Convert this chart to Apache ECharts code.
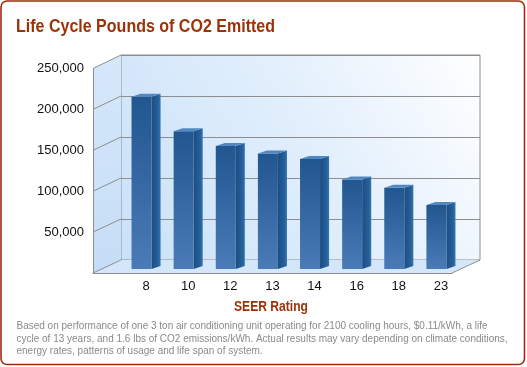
<!DOCTYPE html>
<html><head><meta charset="utf-8">
<script src="https://cdn.jsdelivr.net/npm/echarts@6/dist/echarts.min.js"></script>
<style>html,body{margin:0;padding:0;background:#fff}#c{width:527px;height:367px}</style>
</head><body><div id="c"></div>
<script>
// ---- data ----
const categories = ['8', '10', '12', '13', '14', '16', '18', '23'];
const emissions = [210000, 168000, 150000, 141000, 134000, 109000, 99000, 78000];
const yTicks = [0, 50000, 100000, 150000, 200000, 250000];
const titleText = 'Life Cycle Pounds of CO2 Emitted';
const xAxisTitle = 'SEER Rating';
const footnoteLines = [
  'Based on performance of one 3 ton air conditioning unit operating for 2100 cooling hours, $0.11/kWh, a life',
  'cycle of 13 years, and 1.6 lbs of CO2 emissions/kWh. Actual results may vary depending on climate conditions,',
  'energy rates, patterns of usage and life span of system.'
];

// ---- styles ----
const RED = '#9c3208';
const EDGE = '#8e8e8e';
const SANS = '"Liberation Sans", Arial, Helvetica, sans-serif';
const yMax = yTicks[yTicks.length - 1];
const yStep = yTicks[1] - yTicks[0];

const mctx = document.createElement('canvas').getContext('2d');
function fitScale(text, font, target) {
  mctx.font = font;
  return target / mctx.measureText(text).width;
}

const chart = echarts.init(document.getElementById('c'), null, { renderer: 'canvas' });

const frontFill = new echarts.graphic.LinearGradient(0, 0, 0, 1, [
  { offset: 0, color: '#22568f' }, { offset: 1, color: '#4a7bb7' }]);
const sideFill = new echarts.graphic.LinearGradient(0, 0, 1, 0, [
  { offset: 0, color: '#1c4d83' }, { offset: 0.75, color: '#27619a' }, { offset: 1, color: '#3a78b3' }]);

const yAxisBase = { type: 'value', min: 0, max: yMax, interval: yStep };

chart.setOption({
  animation: false,
  backgroundColor: '#fff',
  grid: [
    // back wall
    { left: 121, top: 55, width: 359, height: 205, show: true, borderColor: EDGE, borderWidth: 1,
      backgroundColor: new echarts.graphic.LinearGradient(0, 1, 1, 0, [
        { offset: 0, color: '#c9e1f9' }, { offset: 0.55, color: '#e2effc' }, { offset: 1, color: '#ffffff' }]) },
    // front plane (axis labels)
    { left: 93, top: 68.5, width: 359, height: 204.5 },
    // bar plane
    { left: 125, top: 64, width: 337, height: 205 }
  ],
  xAxis: [
    { gridIndex: 0, type: 'category', data: categories, show: false },
    { gridIndex: 1, type: 'category', data: categories,
      axisLine: { show: true, lineStyle: { color: EDGE, width: 1 } }, axisTick: { show: false }, axisLabel: { show: false } },
    { gridIndex: 2, type: 'category', data: categories,
      axisLine: { show: false }, axisTick: { show: false },
      axisLabel: { margin: 11, fontFamily: SANS, fontSize: 13, color: '#111' } }
  ],
  yAxis: [
    Object.assign({ gridIndex: 0, axisLine: { show: false }, axisTick: { show: false }, axisLabel: { show: false },
      splitLine: { show: true, lineStyle: { color: EDGE, width: 1 } } }, yAxisBase),
    Object.assign({ gridIndex: 1, axisLine: { show: true, lineStyle: { color: EDGE, width: 1 } }, axisTick: { show: false },
      splitLine: { show: false },
      axisLabel: { margin: 9, fontFamily: SANS, fontSize: 13, color: '#111',
        formatter: v => v === 0 ? '' : v.toLocaleString('en-US') } }, yAxisBase),
    Object.assign({ gridIndex: 2, show: false, splitLine: { show: false } }, yAxisBase)
  ],
  series: [{
    type: 'custom', xAxisIndex: 2, yAxisIndex: 2, z: 5,
    data: emissions.map((v, i) => [i, v]),
    renderItem: function (params, api) {
      const i = api.value(0), v = api.value(1);
      const top = api.coord([i, v]);
      const base = api.coord([i, 0]);
      const bw = api.size([1, 0])[0];
      const cx = top[0];
      const L = cx - bw * 0.345, R = cx + bw * 0.13;
      const D = bw * 0.215, DY = -3;
      return { type: 'group', children: [
        { type: 'polygon', shape: { points: [[R, top[1]], [R + D, top[1] + DY], [R + D, base[1] + DY], [R, base[1]]] },
          style: { fill: sideFill } },
        { type: 'rect', shape: { x: L, y: top[1], width: R - L, height: base[1] - top[1] },
          style: { fill: frontFill } },
        { type: 'polygon', shape: { points: [[L, top[1]], [L + D, top[1] + DY], [R + D, top[1] + DY], [R, top[1]]] },
          style: { fill: '#5288c2' } }
      ] };
    }
  }]
});

// walls / floor / depth lines computed from the axes
const fBL = [93, chart.convertToPixel({ yAxisIndex: 1 }, 0)];
const fTL = [93, chart.convertToPixel({ yAxisIndex: 1 }, yMax)];
const fBR = [452, fBL[1]];
const bBL = [121, chart.convertToPixel({ yAxisIndex: 0 }, 0)];
const bTL = [121, chart.convertToPixel({ yAxisIndex: 0 }, yMax)];
const bBR = [480, bBL[1]];

const titleFont = 'bold 19px "Liberation Sans"';
const noteFont = '10.5px "Liberation Sans"';
const nameFont = 'bold 14.5px "Liberation Sans"';
const titleScale = fitScale(titleText, titleFont, 259);
const noteScale = fitScale(footnoteLines[0], noteFont, 471);
const nameScale = fitScale(xAxisTitle, nameFont, 74);

const graphics = [
  { type: 'rect', shape: { x: 1, y: 1, width: 523.5, height: 363.5, r: 6 }, z: 100,
    style: { fill: 'none', stroke: '#9a2d0a', lineWidth: 1.6 } },
  { type: 'polygon', z: 0, shape: { points: [fTL, bTL, bBL, fBL] },
    style: { fill: new echarts.graphic.LinearGradient(0, 0, 1, 1, [
      { offset: 0, color: '#d6e8fb' }, { offset: 1, color: '#c4ddf6' }]) } },
  { type: 'polygon', z: 0, shape: { points: [fBL, bBL, bBR, fBR] },
    style: { fill: '#d3e6fa' } },
  { type: 'line', z: 1, shape: { x1: fBR[0], y1: fBR[1], x2: bBR[0], y2: bBR[1] },
    style: { stroke: EDGE, lineWidth: 1 } },
  { type: 'text', z: 10, x: 16, y: 26.5, scaleX: titleScale,
    style: { text: titleText, font: titleFont, fill: RED, align: 'left', verticalAlign: 'middle' } },
  { type: 'text', z: 10, x: 271, y: 307, scaleX: nameScale,
    style: { text: xAxisTitle, font: nameFont, fill: RED, align: 'center', verticalAlign: 'middle' } }
];
footnoteLines.forEach((t, k) => {
  graphics.push({ type: 'text', z: 10, x: 16.5, y: 326.5 + k * 12.3, scaleX: noteScale,
    style: { text: t, font: noteFont, fill: '#8a8a8a', align: 'left', verticalAlign: 'middle' } });
});
yTicks.forEach(v => {
  const yf = chart.convertToPixel({ yAxisIndex: 1 }, v);
  const yb = chart.convertToPixel({ yAxisIndex: 0 }, v);
  graphics.push({ type: 'line', z: 1, shape: { x1: 93, y1: yf, x2: 121, y2: yb },
    style: { stroke: EDGE, lineWidth: 1 } });
});
chart.setOption({ graphic: graphics });
</script></body></html>
